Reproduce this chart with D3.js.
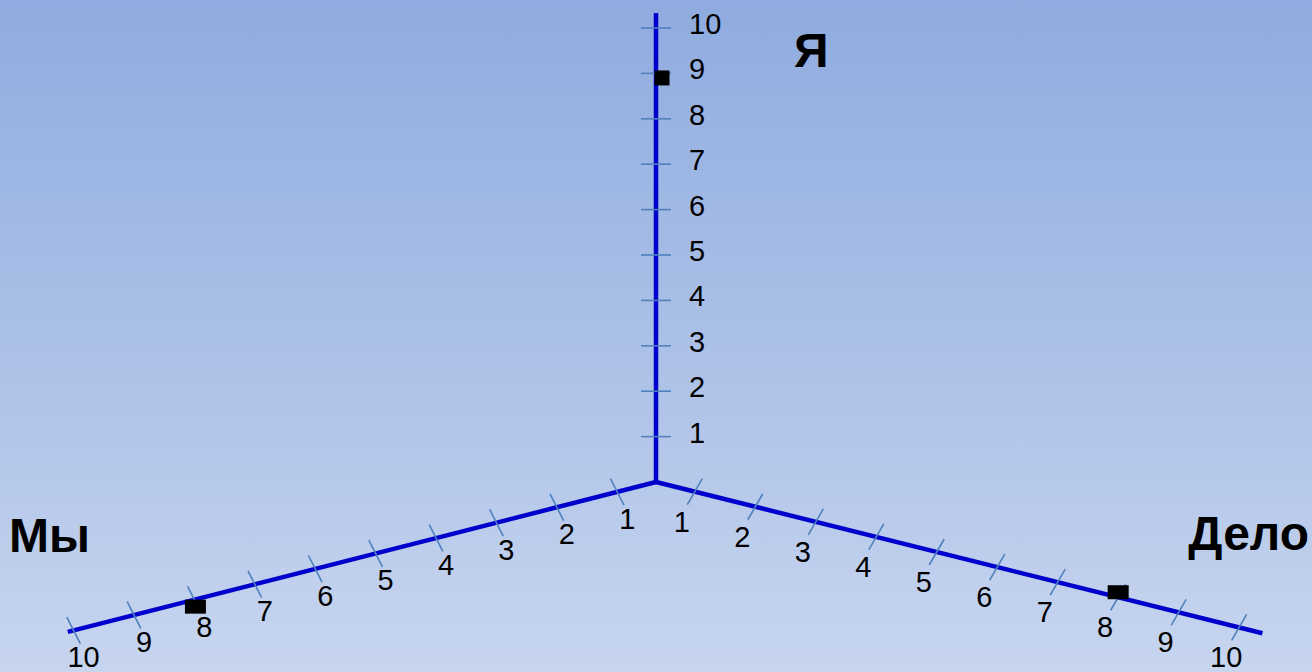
<!DOCTYPE html>
<html>
<head>
<meta charset="utf-8">
<script src="https://cdn.jsdelivr.net/npm/d3@7"></script>
<style>
  html, body { margin: 0; padding: 0; overflow: hidden; }
  svg { display: block; font-family: "Liberation Sans", Arial, sans-serif; }
</style>
</head>
<body>
<div id="chart"></div>
<script>
// chart data
const axisNames = ["Я", "Мы", "Дело"]
const tickValues = [1, 2, 3, 4, 5, 6, 7, 8, 9, 10]
const markerValues = [8.9, 8, 8]

const WIDTH = 1312, HEIGHT = 672
const CENTER = {x: 656, y: 482}

// layout of each axis (angle in screen degrees, y down)
const axes = [
  {angle: -90, length: 469, domain: [0, 10], range: [0, 454],
   tickDir: [1, 0], label: {dx: 33, dy: -4, anchor: "start"},
   title: {x: 794, y: 67, anchor: "start"},
   marker: {w: 15, h: 15, dx: 6, dy: 0}},
  {angle: 165.7, length: 607, domain: [1, 10], range: [40, 601],
   tickDir: [0.454, 0.891], label: {dx: 10, dy: 27, anchor: "middle"},
   title: {x: 9, y: 552, anchor: "start"},
   marker: {w: 21, h: 14, dx: 1, dy: 7}},
  {angle: 14, length: 625, domain: [1, 10], range: [40, 601],
   tickDir: [-0.5, 0.866], label: {dx: -13, dy: 30, anchor: "middle"},
   title: {x: 1309, y: 550, anchor: "end"},
   marker: {w: 21, h: 14, dx: 0, dy: -5}}
]

const svg = d3.select("#chart").append("svg")
  .attr("width", WIDTH).attr("height", HEIGHT)

let grad = svg.append("defs").append("linearGradient")
  .attr("id", "bg").attr("x1", 0).attr("y1", 0).attr("x2", 0).attr("y2", 1)
grad.append("stop").attr("offset", "0%").attr("stop-color", "#8fabdf")
grad.append("stop").attr("offset", "50%").attr("stop-color", "#abc0e7")
grad.append("stop").attr("offset", "100%").attr("stop-color", "#c7d5ef")

svg.append("rect").attr("width", WIDTH).attr("height", HEIGHT).attr("fill", "url(#bg)")

axes.forEach((ax, i) => {
  let a = ax.angle * Math.PI / 180
  let ux = Math.cos(a), uy = Math.sin(a)
  let scale = d3.scaleLinear().domain(ax.domain).range(ax.range)
  let pt = v => [CENTER.x + ux * scale(v), CENTER.y + uy * scale(v)]

  let g = svg.append("g")

  g.append("line")
    .attr("x1", CENTER.x).attr("y1", CENTER.y)
    .attr("x2", CENTER.x + ux * ax.length).attr("y2", CENTER.y + uy * ax.length)
    .attr("stroke", "#0000cc").attr("stroke-width", 4.5)
    .attr("stroke-linecap", "butt")

  let half = 15
  g.selectAll(".tick").data(tickValues).join("line")
    .attr("class", "tick")
    .attr("x1", d => pt(d)[0] - ax.tickDir[0] * half)
    .attr("y1", d => pt(d)[1] - ax.tickDir[1] * half)
    .attr("x2", d => pt(d)[0] + ax.tickDir[0] * half)
    .attr("y2", d => pt(d)[1] + ax.tickDir[1] * half)
    .attr("stroke", "#4f81bd").attr("stroke-width", 1.6)

  g.selectAll(".tick-label").data(tickValues).join("text")
    .attr("class", "tick-label")
    .attr("x", d => pt(d)[0] + ax.label.dx)
    .attr("y", d => pt(d)[1] + ax.label.dy)
    .attr("text-anchor", ax.label.anchor)
    .attr("dominant-baseline", "central")
    .attr("fill", "#000")
    .style("font-size", "29px")
    .text(d => d)

  let m = pt(markerValues[i])
  g.append("rect")
    .attr("x", m[0] + ax.marker.dx - ax.marker.w / 2)
    .attr("y", m[1] + ax.marker.dy - ax.marker.h / 2)
    .attr("width", ax.marker.w).attr("height", ax.marker.h)
    .attr("fill", "#000")

  g.append("text")
    .attr("x", ax.title.x).attr("y", ax.title.y)
    .attr("text-anchor", ax.title.anchor)
    .attr("fill", "#000")
    .style("font-size", "48px").style("font-weight", "bold")
    .text(axisNames[i])
})
</script>
</body>
</html>
